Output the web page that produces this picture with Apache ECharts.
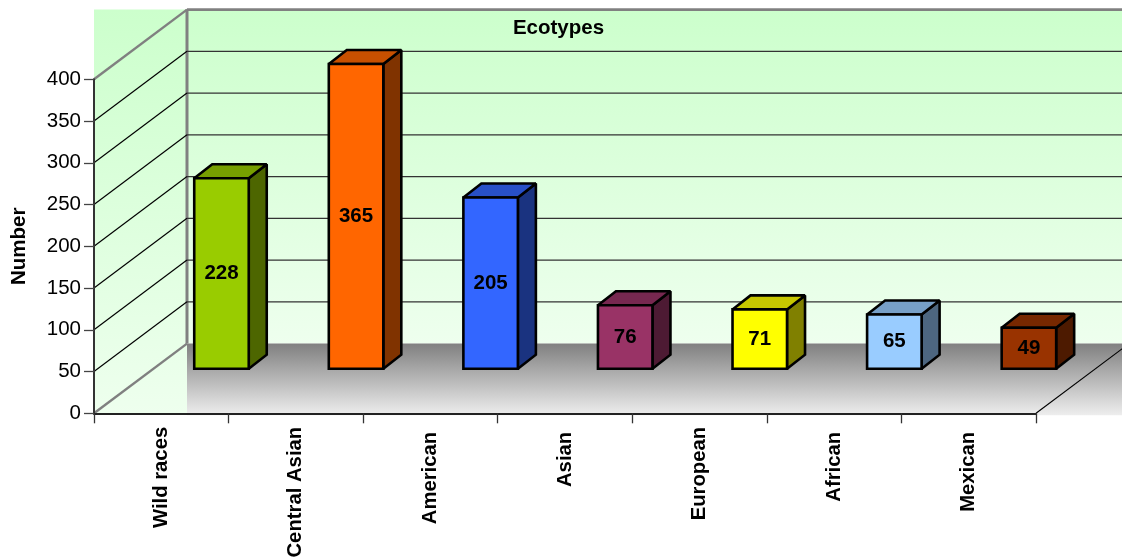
<!DOCTYPE html>
<html>
<head>
<meta charset="utf-8">
<style>html,body{margin:0;padding:0;background:#fff}#chart{width:1122px;height:559px}</style>
<script src="https://cdn.jsdelivr.net/npm/echarts@6/dist/echarts.min.js"></script>
</head>
<body>
<div id="chart"></div>
<script>
// Ecotype counts
var categories = ['Wild races', 'Central Asian', 'American', 'Asian', 'European', 'African', 'Mexican'];
var counts = [228, 365, 205, 76, 71, 65, 49];
var barColors = ['#99CC00', '#FF6600', '#3366FF', '#993366', '#FFFF00', '#99CCFF', '#993300'];
var gridTicks = [50, 100, 150, 200, 250, 300, 350, 400];
var valueTicks = [0, 400];
// Categories whose rotated label sits a little lower on the axis
var loweredLabels = ['American', 'Asian', 'African', 'Mexican'];

// Oblique projection: screen offset of the back wall and of the bars
var WALL_DX = 93, WALL_DY = -69.7;
var BAR_INSET_DX = 60.2, BAR_INSET_DY = -44.6;
var BAR_DX = 18, BAR_DY = -14;
var FONT = '"Liberation Sans", Arial, sans-serif';

function shade(hex, k) {
  var n = parseInt(hex.slice(1), 16);
  var c = [n >> 16, (n >> 8) & 255, n & 255].map(function (v) { return Math.round(v * k); });
  return 'rgb(' + c.join(',') + ')';
}
function poly(points, style, z2) {
  return { type: 'polygon', shape: { points: points }, style: style, z2: z2 || 0 };
}
function seg(x1, y1, x2, y2, stroke, width) {
  return { type: 'line', shape: { x1: x1, y1: y1, x2: x2, y2: y2 },
           style: { stroke: stroke, lineWidth: width, fill: null } };
}
function vGrad(a, b) {
  return { type: 'linear', x: 0, y: 0, x2: 0, y2: 1, colorStops: [{ offset: 0, color: a }, { offset: 1, color: b }] };
}

// Side wall, back wall and floor hung off the value axis scale
function renderWalls(params, api) {
  var cs = params.coordSys;
  var top = api.coord([0, 400])[1], base = api.coord([0, 0])[1];
  var left = cs.x, right = cs.x + cs.width;
  var bx = left + WALL_DX, by = base + WALL_DY, ty = top + WALL_DY;
  var canvasRight = api.getWidth();
  return {
    type: 'group',
    children: [
      poly([[left, ty], [bx, ty], [bx, base + 1], [left, base + 1]], { fill: vGrad('#CCFFCC', '#EEFFEE') }),
      poly([[bx, ty], [canvasRight, ty], [canvasRight, by], [bx, by]], { fill: vGrad('#CCFFCC', '#EEFFEE') }),
      poly([[bx, by], [canvasRight, by], [canvasRight, base + 2], [bx, base + 2]], { fill: vGrad('#808080', '#EEEEEE') }),
      seg(right, base, right + WALL_DX, by, '#000', 1.1),
      seg(left, top, bx, ty, '#808080', 2.4),
      seg(left, base, bx, by, '#808080', 2.4),
      seg(bx, ty, bx, by, '#808080', 3),
      seg(bx, ty, canvasRight, ty, '#808080', 2.6)
    ]
  };
}

// One line per tick: up the side wall, then along the back wall
function renderGridLine(params, api) {
  var cs = params.coordSys;
  var y = api.coord([0, api.value(0)])[1];
  var left = cs.x, bx = left + WALL_DX;
  return {
    type: 'group',
    children: [
      seg(left, y, bx, y + WALL_DY, '#000', 1.2),
      seg(bx, y + WALL_DY, cs.x + cs.width + WALL_DX, y + WALL_DY, '#333', 1.3)
    ]
  };
}

// Box with front, top and side faces plus its value on the front
function renderBar(params, api) {
  var i = api.value(0), v = api.value(1);
  var w = api.size([1, 0])[0] * 0.405;
  var c = api.coord([i, 0]), t = api.coord([i, v]);
  var x0 = c[0] + BAR_INSET_DX - w / 2, x1 = x0 + w;
  var y0 = c[1] + BAR_INSET_DY, y1 = t[1] + BAR_INSET_DY;
  var col = barColors[i];
  var edge = { stroke: '#000', lineWidth: 2.6, lineJoin: 'miter', miterLimit: 1.6 };
  var st = function (fill) { return Object.assign({ fill: fill }, edge); };
  return {
    type: 'group',
    children: [
      poly([[x1, y0], [x1 + BAR_DX, y0 + BAR_DY], [x1 + BAR_DX, y1 + BAR_DY], [x1, y1]], st(shade(col, 0.5))),
      poly([[x0, y1], [x1, y1], [x1 + BAR_DX, y1 + BAR_DY], [x0 + BAR_DX, y1 + BAR_DY]], st(shade(col, 0.78))),
      poly([[x0, y0], [x1, y0], [x1, y1], [x0, y1]], st(col)),
      { type: 'text', z2: 5,
        style: { x: (x0 + x1) / 2, y: (y0 + y1) / 2, text: String(v), fill: '#000',
                 font: 'bold 20.5px ' + FONT, align: 'center', verticalAlign: 'middle' } }
    ]
  };
}

var chart = echarts.init(document.getElementById('chart'), null, { renderer: 'canvas' });
chart.setOption({
  animation: false,
  backgroundColor: '#fff',
  title: {
    text: 'Ecotypes', left: 553.5, top: 13, textAlign: 'center',
    textStyle: { fontFamily: FONT, fontSize: 20.5, fontWeight: 'bold', color: '#000' }
  },
  grid: { left: 94, top: 79.3, width: 942, height: 334, outerBoundsMode: 'none' },
  xAxis: {
    type: 'category',
    z: 6,
    data: categories.map(function (name) {
      return loweredLabels.indexOf(name) >= 0
        ? { value: name, textStyle: { padding: [0, 5, 0, 0] } }
        : name;
    }),
    axisLine: { lineStyle: { color: '#222', width: 2 } },
    axisTick: { show: true, length: 10, alignWithLabel: false, lineStyle: { color: '#333', width: 1.3 } },
    axisLabel: { rotate: 90, interval: 0, margin: 13.5, hideOverlap: false,
                 fontFamily: FONT, fontSize: 20.3, fontWeight: 'bold', color: '#000' },
    splitLine: { show: false }
  },
  yAxis: {
    type: 'value', min: valueTicks[0], max: valueTicks[1], interval: gridTicks[0],
    z: 6,
    name: 'Number', nameLocation: 'middle', nameGap: 64,
    nameTextStyle: { fontFamily: FONT, fontSize: 20.5, fontWeight: 'bold', color: '#000' },
    axisLine: { show: true, lineStyle: { color: '#333', width: 2 } },
    axisTick: { show: true, length: 10, lineStyle: { color: '#444', width: 1.3 } },
    axisLabel: { margin: 13, fontFamily: FONT, fontSize: 20.5, color: '#000' },
    splitLine: { show: false }
  },
  series: [
    { type: 'custom', coordinateSystem: 'cartesian2d', z: 1, clip: false, silent: true,
      renderItem: renderWalls, data: [[0, 0]] },
    { type: 'custom', coordinateSystem: 'cartesian2d', z: 2, clip: false, silent: true,
      renderItem: renderGridLine, encode: { x: 1, y: 0 },
      data: gridTicks.slice(0, -1).map(function (v) { return [v, 0]; }) },
    { type: 'custom', coordinateSystem: 'cartesian2d', z: 3, clip: false,
      renderItem: renderBar, encode: { x: 0, y: 1 },
      data: counts.map(function (v, i) { return [i, v]; }) }
  ]
});
</script>
</body>
</html>
